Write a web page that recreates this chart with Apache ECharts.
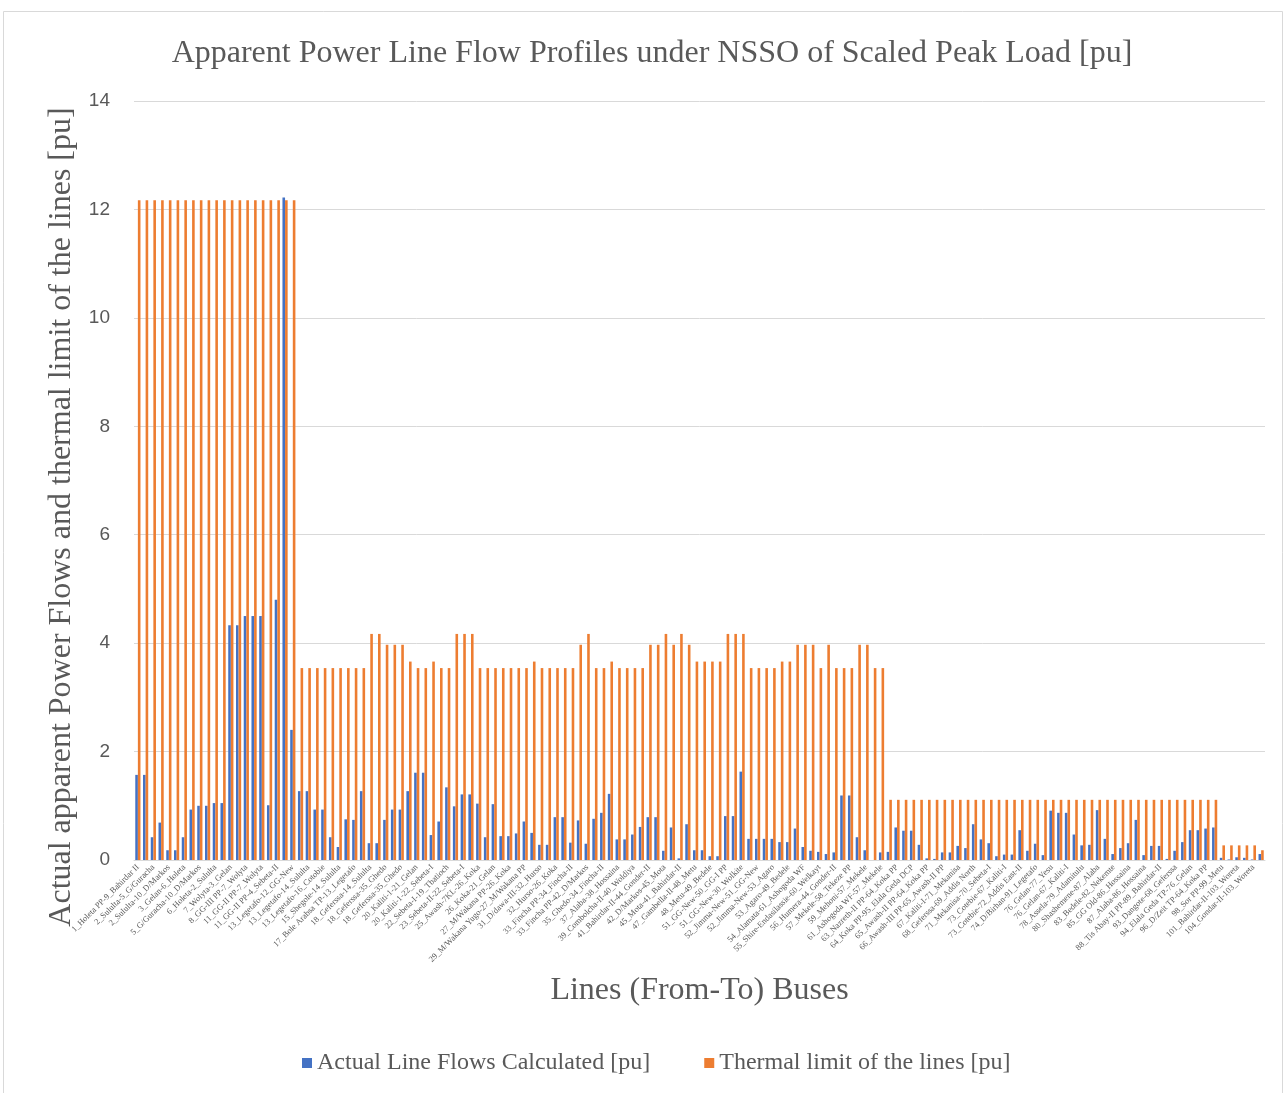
<!DOCTYPE html>
<html>
<head>
<meta charset="utf-8">
<title>Apparent Power Line Flow Profiles</title>
<script src="https://cdn.jsdelivr.net/npm/echarts@6/dist/echarts.min.js"></script>
<style>
  html, body { margin: 0; padding: 0; background: #ffffff; }
  #chart { width: 1286px; height: 1093px; }
</style>
</head>
<body>
<div id="chart"></div>
<script>
// Transmission lines (From-To buses), one entry per bar pair
const lineNames = [
  '1_Holeta PP-9_Bahirdar II', '1_Holeta PP-9_Bahirdar II',
  '2_Sululta-5_G/Guracha', '2_Sululta-5_G/Guracha',
  '2_Sululta-10_D/Markos', '2_Sululta-10_D/Markos',
  '3_Gelan-6_Holeta', '3_Gelan-6_Holeta',
  '5_G/Guracha-10_D/Markos', '5_G/Guracha-10_D/Markos',
  '6_Holeta-2_Sululta', '6_Holeta-2_Sululta',
  '7_Wolyta-3_Gelan', '7_Wolyta-3_Gelan',
  '8_GG-III PP-7_Wolyta', '8_GG-III PP-7_Wolyta',
  '11_GG-II PP-7_Wolyta', '11_GG-II PP-7_Wolyta',
  '11_GG-II PP-4_Sebeta-II', '11_GG-II PP-4_Sebeta-II',
  '13_Legetafo-12_GG-New', '13_Legetafo-12_GG-New',
  '13_Legetafo-14_Sululta', '13_Legetafo-14_Sululta',
  '13_Legetafo-16_Cotobie', '13_Legetafo-16_Cotobie',
  '15_Shegole-14_Sululta', '15_Shegole-14_Sululta',
  '17_Bole Arabsa TP-13_Legetafo', '17_Bole Arabsa TP-13_Legetafo',
  '18_Geferssa-14_Sululta', '18_Geferssa-14_Sululta',
  '18_Geferssa-35_Ghedo', '18_Geferssa-35_Ghedo',
  '18_Geferssa-35_Ghedo', '18_Geferssa-35_Ghedo',
  '20_Kaliti-1-21_Gelan', '20_Kaliti-1-21_Gelan',
  '20_Kaliti-1-22_Sebeta-I', '20_Kaliti-1-22_Sebeta-I',
  '22_Sebeta-I-19_Tbatioch', '22_Sebeta-I-19_Tbatioch',
  '23_Sebeta-II-22_Sebeta-I', '23_Sebeta-II-22_Sebeta-I',
  '25_Awash-7KL-26_Koka', '25_Awash-7KL-26_Koka',
  '26_Koka-21_Gelan', '26_Koka-21_Gelan',
  '27_M/Wakana PP-26_Koka', '27_M/Wakana PP-26_Koka',
  '29_M/Wakana Yugo-27_M/Wakana PP', '29_M/Wakana Yugo-27_M/Wakana PP',
  '31_D/dawa-III-32_Hurso', '31_D/dawa-III-32_Hurso',
  '32_Hurso-26_Koka', '32_Hurso-26_Koka',
  '33_Fincha PP-34_Fincha-II', '33_Fincha PP-34_Fincha-II',
  '33_Fincha PP-42_D/Markos', '33_Fincha PP-42_D/Markos',
  '35_Ghedo-34_Fincha-II', '35_Ghedo-34_Fincha-II',
  '37_Alaba-38_Hossaina', '37_Alaba-38_Hossaina',
  '39_Combolcha-II-40_Woldiya', '39_Combolcha-II-40_Woldiya',
  '41_Bahirdar-II-44_Gonder-II', '41_Bahirdar-II-44_Gonder-II',
  '42_D/Markos-45_Mota', '42_D/Markos-45_Mota',
  '45_Mota-41_Bahirdar-II', '45_Mota-41_Bahirdar-II',
  '47_Gambella-II-48_Metu', '47_Gambella-II-48_Metu',
  '48_Metu-49_Bedele', '48_Metu-49_Bedele',
  '51_GG-New-50_GG-I PP', '51_GG-New-50_GG-I PP',
  '51_GG-New-30_Wolkite', '51_GG-New-30_Wolkite',
  '52_Jimma-New-51_GG-New', '52_Jimma-New-51_GG-New',
  '52_Jimma-New-53_Agaro', '52_Jimma-New-53_Agaro',
  '53_Agaro-49_Bedele', '53_Agaro-49_Bedele',
  '54_Alamata-61_Ashogoda WF', '54_Alamata-61_Ashogoda WF',
  '55_Shire-Endasilassie-60_Welkayt', '55_Shire-Endasilassie-60_Welkayt',
  '56_Humera-44_Gonder-II', '56_Humera-44_Gonder-II',
  '57_Mekele-58_Tekeze PP', '57_Mekele-58_Tekeze PP',
  '59_Mehoni-57_Mekele', '59_Mehoni-57_Mekele',
  '61_Ashogoda WF-57_Mekele', '61_Ashogoda WF-57_Mekele',
  '63_Nazreth-II PP-64_Koka PP', '63_Nazreth-II PP-64_Koka PP',
  '64_Koka PP-95_Elala Geda DCP', '64_Koka PP-95_Elala Geda DCP',
  '65_Awash-II PP-64_Koka PP', '65_Awash-II PP-64_Koka PP',
  '66_Awash-III PP-65_Awash-II PP', '66_Awash-III PP-65_Awash-II PP',
  '67_Kaliti-I-71_Mekanisa', '67_Kaliti-I-71_Mekanisa',
  '68_Geferssa-69_Addis North', '68_Geferssa-69_Addis North',
  '71_Mekanisa-70_Sebeta-I', '71_Mekanisa-70_Sebeta-I',
  '73_Cotebie-67_Kaliti-I', '73_Cotebie-67_Kaliti-I',
  '73_Cotebie-72_Addis East-II', '73_Cotebie-72_Addis East-II',
  '74_D/Birhan-91_Legetafo', '74_D/Birhan-91_Legetafo',
  '76_Gelan-77_Yesu', '76_Gelan-77_Yesu',
  '76_Gelan-67_Kaliti-I', '76_Gelan-67_Kaliti-I',
  '78_Assela-79_Adamitulu', '78_Assela-79_Adamitulu',
  '80_Shashemene-87_Alaba', '80_Shashemene-87_Alaba',
  '83_Bedele-82_Nekemte', '83_Bedele-82_Nekemte',
  '85_GG Old-86_Hossaina', '85_GG Old-86_Hossaina',
  '87_Alaba-86_Hossaina', '87_Alaba-86_Hossaina',
  '88_Tis Abay-II PP-89_Bahirdar-II', '88_Tis Abay-II PP-89_Bahirdar-II',
  '93_Dangote-68_Geferssa', '93_Dangote-68_Geferssa',
  '94_Elala Geda TP-76_Gelan', '94_Elala Geda TP-76_Gelan',
  '96_D/Zeit TP-64_Koka PP', '96_D/Zeit TP-64_Koka PP',
  '98_Sor PP-99_Metu', '98_Sor PP-99_Metu',
  '101_Bahirdar-II-103_Woreta', '101_Bahirdar-II-103_Woreta',
  '104_Gondar-II-103_Woreta', '104_Gondar-II-103_Woreta'
];

// Calculated apparent power flow on each line [pu]
const actualFlows = [
  1.57, 1.57, 0.42, 0.69, 0.18, 0.18, 0.42, 0.93, 1.00, 1.00,
  1.05, 1.05, 4.33, 4.33, 4.50, 4.50, 4.50, 1.01, 4.80, 12.22,
  2.40, 1.27, 1.27, 0.93, 0.93, 0.42, 0.24, 0.75, 0.74, 1.27,
  0.31, 0.31, 0.74, 0.93, 0.93, 1.27, 1.61, 1.61, 0.46, 0.71,
  1.34, 0.99, 1.21, 1.21, 1.04, 0.42, 1.03, 0.44, 0.44, 0.49,
  0.71, 0.50, 0.28, 0.28, 0.79, 0.79, 0.32, 0.73, 0.30, 0.76,
  0.87, 1.22, 0.38, 0.38, 0.47, 0.61, 0.79, 0.79, 0.17, 0.60,
  0.03, 0.66, 0.18, 0.18, 0.07, 0.07, 0.81, 0.81, 1.63, 0.39,
  0.39, 0.39, 0.39, 0.33, 0.33, 0.58, 0.24, 0.17, 0.15, 0.11,
  0.14, 1.19, 1.19, 0.42, 0.18, 0.00, 0.14, 0.15, 0.60, 0.54,
  0.54, 0.28, 0.03, 0.02, 0.14, 0.14, 0.26, 0.22, 0.66, 0.38,
  0.31, 0.07, 0.10, 0.10, 0.55, 0.17, 0.30, 0.09, 0.91, 0.87,
  0.87, 0.47, 0.27, 0.28, 0.92, 0.39, 0.11, 0.22, 0.31, 0.74,
  0.09, 0.26, 0.26, 0.02, 0.17, 0.33, 0.55, 0.55, 0.58, 0.60,
  0.04, 0.01, 0.05, 0.04, 0.01, 0.11
];

// Thermal limit of each line [pu]
const thermalLimits = [
  12.17, 12.17, 12.17, 12.17, 12.17, 12.17, 12.17, 12.17, 12.17, 12.17,
  12.17, 12.17, 12.17, 12.17, 12.17, 12.17, 12.17, 12.17, 12.17, 12.17,
  12.17, 3.54, 3.54, 3.54, 3.54, 3.54, 3.54, 3.54, 3.54, 3.54,
  4.17, 4.17, 3.97, 3.97, 3.97, 3.66, 3.54, 3.54, 3.66, 3.54,
  3.54, 4.17, 4.17, 4.17, 3.54, 3.54, 3.54, 3.54, 3.54, 3.54,
  3.54, 3.66, 3.54, 3.54, 3.54, 3.54, 3.54, 3.97, 4.17, 3.54,
  3.54, 3.66, 3.54, 3.54, 3.54, 3.54, 3.97, 3.97, 4.17, 3.97,
  4.17, 3.97, 3.66, 3.66, 3.66, 3.66, 4.17, 4.17, 4.17, 3.54,
  3.54, 3.54, 3.54, 3.66, 3.66, 3.97, 3.97, 3.97, 3.54, 3.97,
  3.54, 3.54, 3.54, 3.97, 3.97, 3.54, 3.54, 1.11, 1.11, 1.11,
  1.11, 1.11, 1.11, 1.11, 1.11, 1.11, 1.11, 1.11, 1.11, 1.11,
  1.11, 1.11, 1.11, 1.11, 1.11, 1.11, 1.11, 1.11, 1.11, 1.11,
  1.11, 1.11, 1.11, 1.11, 1.11, 1.11, 1.11, 1.11, 1.11, 1.11,
  1.11, 1.11, 1.11, 1.11, 1.11, 1.11, 1.11, 1.11, 1.11, 1.11,
  0.27, 0.27, 0.27, 0.27, 0.27, 0.18
];

// Value axis range and step
const yMin = 0;
const yMax = 14;
const yStep = 2;

const seriesNames = ['Actual Line Flows Calculated [pu]', 'Thermal limit of the lines [pu]'];
const chartTitle = 'Apparent Power Line Flow Profiles under NSSO of Scaled Peak Load [pu]';
const yAxisTitle = 'Actual apparent Power Flows and thermal limit of the lines [pu]';
const xAxisTitle = 'Lines (From-To) Buses';

const SERIF = '"Liberation Serif", "Times New Roman", serif';
const TEXT_GREY = '#595959';
const GRID_GREY = '#d9d9d9';

const chart = echarts.init(document.getElementById('chart'), null, { renderer: 'canvas' });

chart.setOption({
  animation: false,
  backgroundColor: '#ffffff',
  title: {
    text: chartTitle,
    left: 647,
    textAlign: 'center',
    top: 33,
    textStyle: { fontFamily: SERIF, fontSize: 32, fontWeight: 'normal', color: TEXT_GREY }
  },
  graphic: [
    {
      type: 'rect',
      silent: true,
      z: -10,
      shape: { x: 3.5, y: 11.5, width: 1279, height: 1100 },
      style: { fill: 'none', stroke: GRID_GREY, lineWidth: 1 }
    },
    {
      type: 'text',
      silent: true,
      x: 62,
      y: 517,
      rotation: Math.PI / 2,
      style: {
        text: yAxisTitle,
        fill: TEXT_GREY,
        font: '32px ' + SERIF,
        textAlign: 'center',
        textVerticalAlign: 'middle'
      }
    }
  ],
  legend: {
    data: seriesNames,
    bottom: 13,
    left: 297,
    icon: 'rect',
    itemWidth: 10,
    itemHeight: 10,
    itemGap: 54,
    textStyle: { fontFamily: SERIF, fontSize: 24, color: TEXT_GREY }
  },
  grid: {
    left: 134,
    top: 101,
    width: 1131,
    height: 759
  },
  xAxis: {
    type: 'category',
    data: lineNames,
    name: xAxisTitle,
    nameLocation: 'middle',
    nameGap: 115,
    nameTextStyle: { fontFamily: SERIF, fontSize: 32, color: TEXT_GREY },
    axisLine: { lineStyle: { color: GRID_GREY, width: 1 } },
    axisTick: { show: false },
    axisLabel: {
      interval: 1,
      rotate: 45,
      margin: 6,
      fontFamily: SERIF,
      fontSize: 8.5,
      color: TEXT_GREY
    },
    splitLine: { show: false }
  },
  yAxis: {
    type: 'value',
    min: yMin,
    max: yMax,
    interval: yStep,
    axisLine: { show: false },
    axisTick: { show: false },
    axisLabel: {
      margin: 24,
      fontFamily: '"Liberation Sans", Arial, sans-serif',
      fontSize: 19,
      color: TEXT_GREY
    },
    splitLine: { lineStyle: { color: GRID_GREY, width: 1 } }
  },
  series: [
    {
      name: seriesNames[0],
      type: 'bar',
      data: actualFlows,
      barWidth: 2.6,
      barGap: '0%',
      itemStyle: { color: '#4472C4' }
    },
    {
      name: seriesNames[1],
      type: 'bar',
      data: thermalLimits,
      barWidth: 2.6,
      barGap: '0%',
      itemStyle: { color: '#ED7D31' }
    }
  ]
});
</script>
</body>
</html>
